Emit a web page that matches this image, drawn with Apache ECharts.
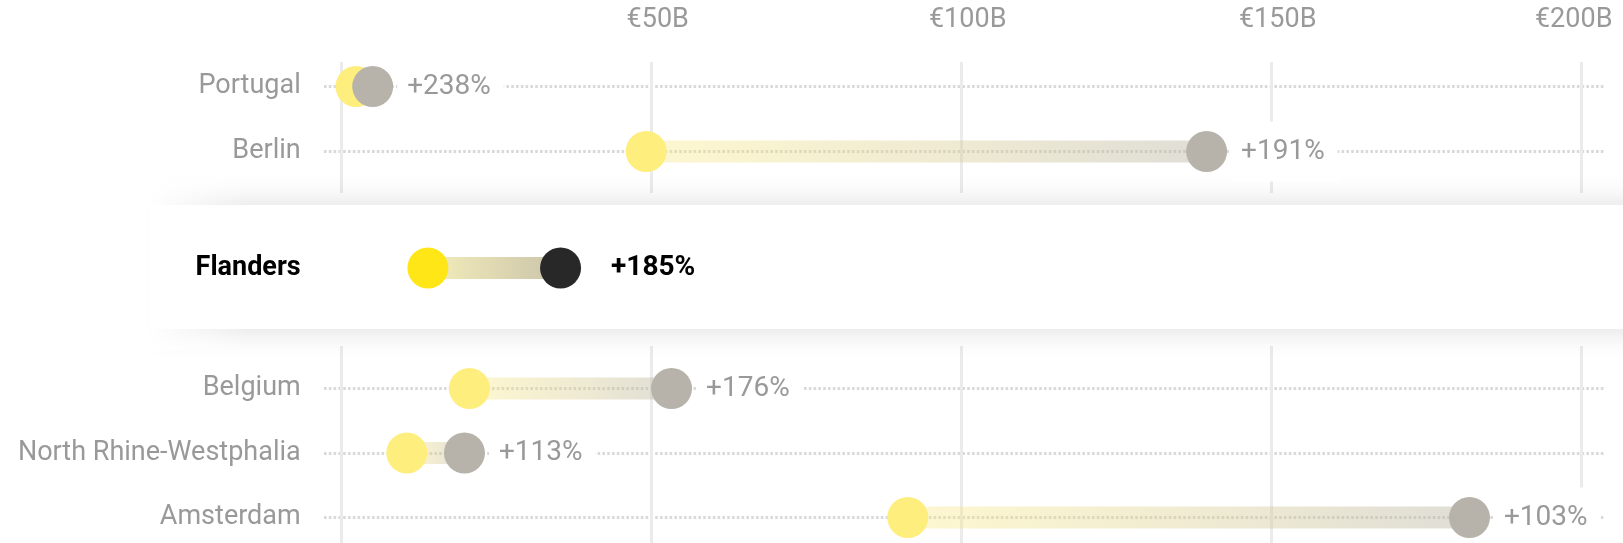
<!DOCTYPE html>
<html>
<head>
<meta charset="utf-8">
<script src="https://cdn.jsdelivr.net/npm/echarts@6/dist/echarts.min.js"></script>
<style>
html,body{margin:0;padding:0;background:#fff}
#main{width:1623px;height:543px}
</style>
</head>
<body>
<div id="main"></div>
<script>
// regions above the highlighted one
var topRegions = ['Portugal', 'Berlin']
var topStart = [2.3, 49.1]
var topEnd = [5.0, 139.5]
var topChange = ['+238%', '+191%']

// highlighted region
var focusRegion = ['Flanders']
var focusStart = [13.9]
var focusEnd = [35.3]
var focusChange = ['+185%']

// regions below
var bottomRegions = ['Belgium', 'North Rhine-Westphalia', 'Amsterdam']
var bottomStart = [20.6, 10.5, 91.3]
var bottomEnd = [53.2, 19.8, 181.9]
var bottomChange = ['+176%', '+113%', '+103%']

// x axis ticks (billions of euro)
var tickValues = [0, 50, 100, 150, 200]
var tickLabels = ['', '€50B', '€100B', '€150B', '€200B']

var FONT = 'Roboto'
var GREY_TXT = '#999'

var chart = echarts.init(document.getElementById('main'))

function pairs(start, end) {
	var out = []
	for (var i = 0; i < start.length; i++) out.push([start[i], end[i], i])
	return out
}
function points(vals) {
	return vals.map(function (v, i) { return [v, i] })
}

function barRenderer(c0, c1) {
	return function (params, api) {
		var a = api.coord([api.value(0), api.value(2)])
		var b = api.coord([api.value(1), api.value(2)])
		return {
			type: 'rect',
			shape: { x: a[0], y: a[1] - 11, width: b[0] - a[0], height: 22 },
			style: {
				fill: new echarts.graphic.LinearGradient(0, 0, 1, 0, [
					{ offset: 0, color: c0 },
					{ offset: 1, color: c1 }
				])
			}
		}
	}
}

var L = 341.7, R = 1623 - 1581.7   // data area
var DL = 324, DR = 1623 - 1604     // dotted guide lines

var valueX = function (extra) {
	return Object.assign({
		type: 'value', min: tickValues[0], max: tickValues[tickValues.length - 1],
		interval: tickValues[1] - tickValues[0]
	}, extra)
}

var dotted = { show: true, lineStyle: { color: '#d9d9d9', width: 3, type: [2.6, 2.2] } }
var vline = { show: true, lineStyle: { color: '#ebebeb', width: 3 } }
var rowLabel = { show: true, margin: 41, fontFamily: FONT, fontSize: 27, color: GREY_TXT, padding: [4, 0, 0, 0] }

function dotSeries(x, y, vals, color, labels, extra) {
	var s = {
		type: 'scatter', xAxisIndex: x, yAxisIndex: y,
		symbolSize: 41, data: points(vals),
		itemStyle: { color: color, opacity: 1 },
		z: 4, silent: true
	}
	if (labels) {
		s.label = {
			show: true, position: 'right', distance: 4,
			formatter: function (p) { return labels[p.dataIndex] },
			fontFamily: FONT, fontSize: 28, color: GREY_TXT,
			backgroundColor: '#fff', padding: [18, 13, 14, 10]
		}
	}
	return Object.assign(s, extra || {})
}

option = {
	animation: false,
	backgroundColor: '#fff',
	grid: [
		{ left: L, right: R, top: 62, height: 131 },          // 0 top vertical lines
		{ left: L, right: R, top: 346, bottom: -5 },          // 1 bottom vertical lines
		{ left: DL, right: DR, top: 86.5, height: 65 },       // 2 top dotted
		{ left: DL, right: DR, top: 388.5, height: 129 },     // 3 bottom dotted
		{ left: L, right: R, top: 86.5, height: 65 },         // 4 top data
		{ left: L, right: R, top: 388.5, height: 129 },       // 5 bottom data
		{ left: L, right: R, top: 248, height: 40 }           // 6 focus data
	],
	xAxis: [
		valueX({
			gridIndex: 0, position: 'top',
			axisLine: { show: false }, axisTick: { show: false }, splitLine: vline,
			axisLabel: {
				margin: 28, fontFamily: FONT, fontSize: 27, color: GREY_TXT,
				padding: [0, 0, 0, 12],
				formatter: function (v) {
					var t = tickLabels[tickValues.indexOf(v)]
					if (v === tickValues[tickValues.length - 1]) return '{e|' + t + '}'
					return t
				},
				rich: { e: { fontFamily: FONT, fontSize: 27, color: GREY_TXT, padding: [0, 28, 0, 0] } }
			}
		}),
		valueX({ gridIndex: 1, axisLine: { show: false }, axisTick: { show: false }, axisLabel: { show: false }, splitLine: vline }),
		valueX({ gridIndex: 2, show: false }),
		valueX({ gridIndex: 3, show: false }),
		valueX({ gridIndex: 4, show: false }),
		valueX({ gridIndex: 5, show: false }),
		valueX({ gridIndex: 6, show: false })
	],
	yAxis: [
		{ gridIndex: 0, type: 'value', show: false },
		{ gridIndex: 1, type: 'value', show: false },
		{ gridIndex: 2, type: 'category', data: topRegions, inverse: true, boundaryGap: false,
			axisLine: { show: false }, axisTick: { show: false }, axisLabel: { show: false }, splitLine: dotted },
		{ gridIndex: 3, type: 'category', data: bottomRegions, inverse: true, boundaryGap: false,
			axisLine: { show: false }, axisTick: { show: false }, axisLabel: { show: false }, splitLine: dotted },
		{ gridIndex: 4, type: 'category', data: topRegions, inverse: true, boundaryGap: false,
			axisLine: { show: false }, axisTick: { show: false }, splitLine: { show: false }, axisLabel: rowLabel },
		{ gridIndex: 5, type: 'category', data: bottomRegions, inverse: true, boundaryGap: false,
			axisLine: { show: false }, axisTick: { show: false }, splitLine: { show: false }, axisLabel: rowLabel },
		{ gridIndex: 6, type: 'category', data: focusRegion, z: 10,
			axisLine: { show: false }, axisTick: { show: false }, splitLine: { show: false },
			axisLabel: { show: true, margin: 41, fontFamily: FONT, fontSize: 27, fontWeight: 'bold', color: '#000', padding: [0, 0, 6, 0] } }
	],
	graphic: [
		// highlighted band with its shadow
		{ type: 'rect', z: 3, silent: true,
			shape: { x: 150, y: 205, width: 1600, height: 124 },
			style: { fill: '#fff', shadowBlur: 30, shadowColor: 'rgba(0,0,0,0.14)' } },
		// fade the shadow out on the left
		{ type: 'rect', z: 4, silent: true,
			shape: { x: 0, y: 180, width: 330, height: 170 },
			style: {
				fill: new echarts.graphic.LinearGradient(0, 0, 1, 0, [
					{ offset: 0, color: 'rgba(255,255,255,1)' },
					{ offset: 0.43, color: 'rgba(255,255,255,1)' },
					{ offset: 0.75, color: 'rgba(255,255,255,0)' },
					{ offset: 1, color: 'rgba(255,255,255,0)' }
				])
			} }
	],
	series: [
		{ type: 'custom', xAxisIndex: 4, yAxisIndex: 4, z: 3, silent: true,
			renderItem: barRenderer('rgba(250,232,120,0.35)', 'rgba(185,180,165,0.45)'),
			encode: { x: [0, 1], y: 2 }, data: pairs(topStart, topEnd) },
		dotSeries(4, 4, topStart, '#feee7e'),
		dotSeries(4, 4, topEnd, '#b8b3aa', topChange),

		{ type: 'custom', xAxisIndex: 5, yAxisIndex: 5, z: 3, silent: true,
			renderItem: barRenderer('rgba(250,232,120,0.35)', 'rgba(185,180,165,0.45)'),
			encode: { x: [0, 1], y: 2 }, data: pairs(bottomStart, bottomEnd) },
		dotSeries(5, 5, bottomStart, '#feee7e'),
		dotSeries(5, 5, bottomEnd, '#b8b3aa', bottomChange),

		{ type: 'custom', xAxisIndex: 6, yAxisIndex: 6, z: 10, silent: true,
			renderItem: barRenderer('#f4edba', '#cbc4aa'),
			encode: { x: [0, 1], y: 2 }, data: pairs(focusStart, focusEnd) },
		dotSeries(6, 6, focusStart, '#ffe617', null, { z: 11 }),
		dotSeries(6, 6, focusEnd, '#282828', null, {
			z: 11,
			label: {
				show: true, position: 'right', distance: 30,
				formatter: function (p) { return focusChange[p.dataIndex] },
				fontFamily: FONT, fontSize: 28, fontWeight: 'bold', color: '#000',
				padding: [0, 0, 3, 0]
			}
		})
	]
}

chart.setOption(option)
</script>
</body>
</html>
